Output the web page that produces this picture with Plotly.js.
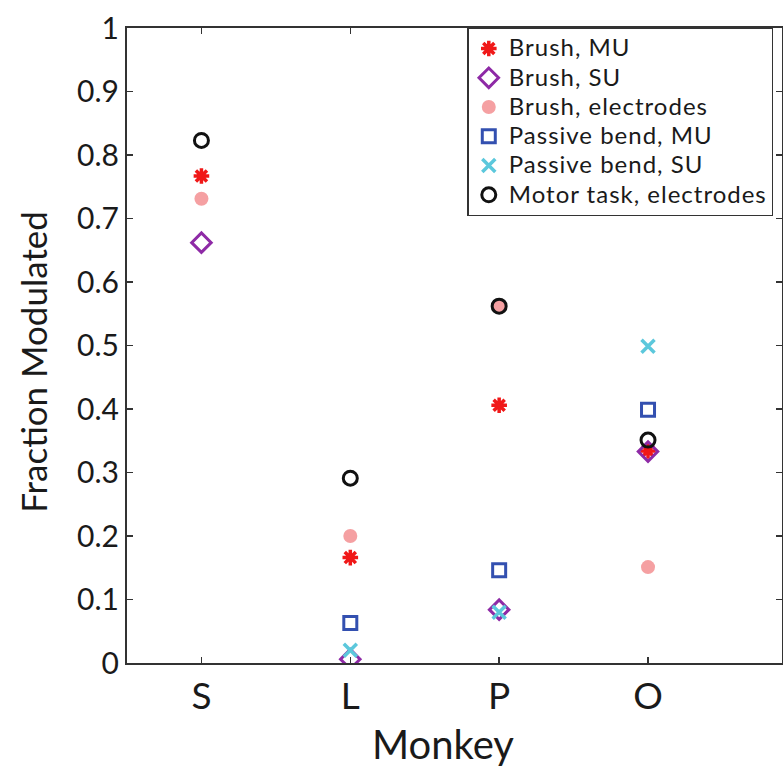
<!DOCTYPE html>
<html>
<head>
<meta charset="utf-8">
<script src="https://cdn.plot.ly/plotly-3.0.1.min.js"></script>
<style>html,body{margin:0;padding:0;background:#fff;}#chart{width:783px;height:775px;}</style>
</head>
<body>
<div id="chart"></div>
<script>
// Data
const monkeys = ['S', 'L', 'P', 'O'];
const seriesNames = ['Brush, MU', 'Brush, SU', 'Brush, electrodes', 'Passive bend, MU', 'Passive bend, SU', 'Motor task, electrodes'];
const brushMU = [0.767, 0.166, 0.406, 0.334];
const brushSU = [0.662, 0.006, 0.084, 0.333];
const brushElectrodes = [0.731, 0.200, 0.562, 0.151];
const passiveMU = [null, 0.063, 0.146, 0.399];
const passiveSU = [null, 0.020, 0.080, 0.499];
const motorElectrodes = [0.823, 0.291, 0.562, 0.351];
const yTickVals = [0, 0.1, 0.2, 0.3, 0.4, 0.5, 0.6, 0.7, 0.8, 0.9, 1];
const yTickText = ['0', '0.1', '0.2', '0.3', '0.4', '0.5', '0.6', '0.7', '0.8', '0.9', '1'];
const xTitle = 'Monkey';
const yTitle = 'Fraction Modulated';

const FONT = 'Lato, "Open Sans", sans-serif';

function legendLabel(s) {
  return '<span style="font-size:24px;letter-spacing:1px">' + s + '</span>';
}

function tr(i, y, marker) {
  return {type: 'scatter', mode: 'markers', name: legendLabel(seriesNames[i]), x: monkeys, y: y, marker: marker, hoverinfo: 'x+y'};
}

const data = [
  tr(0, brushMU, {symbol: 'asterisk-open', size: 13, color: '#f01818', line: {color: '#f01818', width: 3.5}}),
  tr(1, brushSU, {symbol: 'diamond-open', size: 15, color: '#8e2aa6', line: {color: '#8e2aa6', width: 3}}),
  tr(2, brushElectrodes, {symbol: 'circle', size: 14, color: '#f5a0a2', line: {width: 0}}),
  tr(3, passiveMU, {symbol: 'square-open', size: 13, color: '#3350b0', line: {color: '#3350b0', width: 3}}),
  tr(4, passiveSU, {symbol: 'x-thin-open', size: 13, color: '#5cc8dc', line: {color: '#5cc8dc', width: 3.5}}),
  tr(5, motorElectrodes, {symbol: 'circle-open', size: 14, color: '#111111', line: {color: '#111111', width: 3}})
];

const layout = {
  width: 783, height: 775,
  margin: {l: 127, r: 1, t: 28, b: 112, pad: 0},
  paper_bgcolor: '#ffffff', plot_bgcolor: '#ffffff',
  font: {family: FONT, color: '#1a1a1a'},
  showlegend: true,
  legend: {
    x: 0.9867, xanchor: 'right', y: 1.001, yanchor: 'top',
    bgcolor: '#ffffff', bordercolor: '#333333', borderwidth: 1.5,
    font: {family: FONT, size: 20.2, color: '#1a1a1a'},
    tracegroupgap: 0, itemwidth: 30
  },
  xaxis: {
    type: 'category', categoryorder: 'array', categoryarray: monkeys,
    range: [-0.5, 3.9], showgrid: false, zeroline: false,
    showline: true, linecolor: '#333333', linewidth: 2, mirror: 'allticks',
    ticks: 'inside', ticklen: 6, tickwidth: 1.5, tickcolor: '#333333',
    tickfont: {family: FONT, size: 37, color: '#1a1a1a'}
  },
  yaxis: {
    range: [0, 1], tickvals: yTickVals, ticktext: yTickText,
    showgrid: false, zeroline: false,
    showline: true, linecolor: '#333333', linewidth: 2, mirror: 'allticks',
    ticks: 'inside', ticklen: 6, tickwidth: 1.5, tickcolor: '#333333',
    tickfont: {family: FONT, size: 30, color: '#1a1a1a'}
  },
  annotations: [
    {text: xTitle, xref: 'paper', yref: 'paper', x: 0.483, y: -0.128, xanchor: 'center', yanchor: 'middle',
     showarrow: false, font: {family: FONT, size: 40, color: '#1a1a1a'}},
    {text: yTitle, xref: 'paper', yref: 'paper', x: -0.144, y: 0.474, xanchor: 'center', yanchor: 'middle',
     textangle: -90, showarrow: false, font: {family: FONT, size: 35, color: '#1a1a1a'}}
  ]
};

Plotly.newPlot('chart', data, layout, {displayModeBar: false, staticPlot: true});
</script>
</body>
</html>
